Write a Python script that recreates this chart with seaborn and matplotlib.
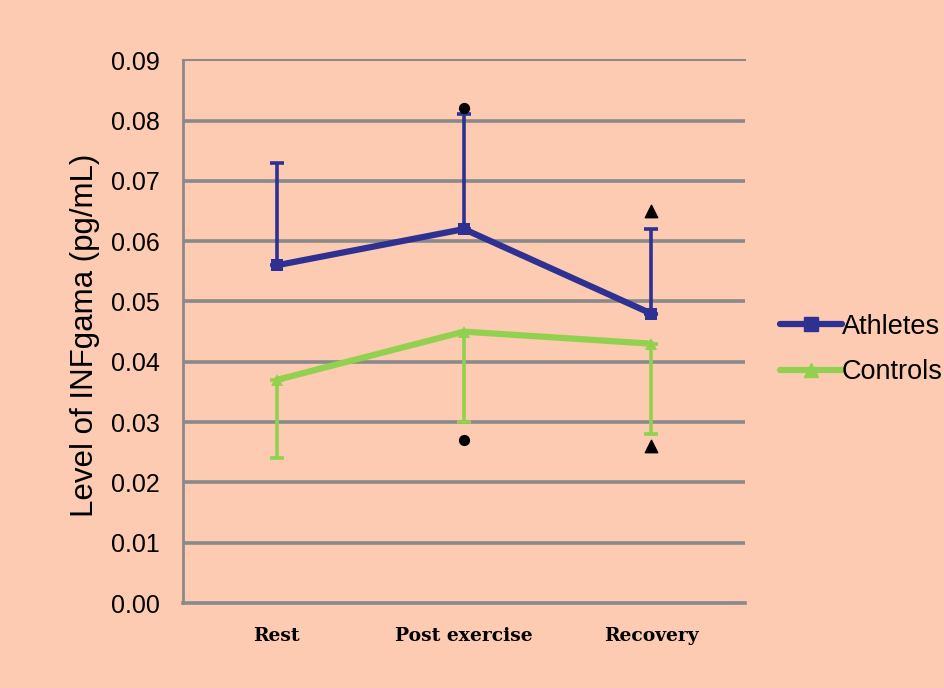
import pandas as pd
import matplotlib.pyplot as plt
import seaborn as sns

phases = ["Rest", "Post exercise", "Recovery"]
athletes = [0.056, 0.062, 0.048]
athletes_err_up = [0.017, 0.019, 0.014]
controls = [0.037, 0.045, 0.043]
controls_err_down = [0.013, 0.015, 0.015]
dot_vals = [0.082, 0.027]          # significance marks at Post exercise
tri_vals = [0.065, 0.026]          # significance marks at Recovery

bg = "#FDCBB1"
blue = "#2E3192"
green = "#92D050"
grid_c = "#8A8A8A"

df = pd.DataFrame({
    "phase": phases * 2,
    "level": athletes + controls,
    "group": ["Athletes"] * 3 + ["Controls"] * 3,
})

sns.set_theme(style="white")
plt.rcParams["font.family"] = ["Liberation Sans", "DejaVu Sans"]
plt.rcParams["text.color"] = "black"

fig = plt.figure(figsize=(9.45, 6.88), dpi=100, facecolor=bg)
ax = fig.add_axes([0.194, 0.1235, 0.594, 0.789])
ax.set_facecolor(bg)

for y in [0.01 * i for i in range(1, 9)]:
    ax.axhline(y, color=grid_c, lw=2.6, zorder=0)

sns.lineplot(data=df, x="phase", y="level", hue="group", style="group",
             palette={"Athletes": blue, "Controls": green},
             markers={"Athletes": "s", "Controls": "^"}, dashes=False,
             markersize=9, markeredgewidth=0, lw=4.5, ax=ax, legend=False, zorder=3)

xs = range(len(phases))
ax.errorbar(xs, athletes, yerr=[[0] * 3, athletes_err_up], fmt="none",
            ecolor=blue, elinewidth=2.6, capsize=5, capthick=2.6, zorder=2)
ax.errorbar(xs, controls, yerr=[controls_err_down, [0] * 3], fmt="none",
            ecolor=green, elinewidth=2.6, capsize=5, capthick=2.6, zorder=2)

ax.scatter([1, 1], dot_vals, marker="o", s=50, color="black", zorder=4)
ax.scatter([2, 2], tri_vals, marker="^", s=80, color="black", zorder=4)

ax.set_xlim(-0.5, 2.5)
ax.set_ylim(0, 0.09)
ax.set_yticks([0.01 * i for i in range(10)])
ax.set_yticklabels([f"{0.01 * i:.2f}" for i in range(10)], fontsize=18, color="black")
ax.set_xticks(list(xs))
ax.set_xticklabels(phases, family="DejaVu Serif", fontweight="bold", fontsize=13.5,
                   color="black")
ax.tick_params(axis="y", length=0, pad=17)
ax.tick_params(axis="x", length=0, pad=17)
ax.set_xlabel("")
ax.set_ylabel("Level of INFgama (pg/mL)", fontsize=22.5, color="black")
ax.yaxis.set_label_coords(-0.148, 0.494)

for side in ["left", "bottom", "top"]:
    ax.spines[side].set_color(grid_c)
ax.spines["left"].set_linewidth(2)
ax.spines["bottom"].set_linewidth(2.6)
ax.spines["top"].set_linewidth(1.5)
ax.spines["right"].set_visible(False)

handles = [
    plt.Line2D([], [], color=blue, marker="s", lw=4.5, markersize=10, label="Athletes"),
    plt.Line2D([], [], color=green, marker="^", lw=4.5, markersize=10, label="Controls"),
]
fig.legend(handles=handles, loc="center left", bbox_to_anchor=(0.825, 0.492),
           frameon=False, fontsize=19.5, handlelength=2.3, handletextpad=0.0,
           labelspacing=0.72, borderpad=0, borderaxespad=0)

fig.savefig("out.png", dpi=100, facecolor=bg)
